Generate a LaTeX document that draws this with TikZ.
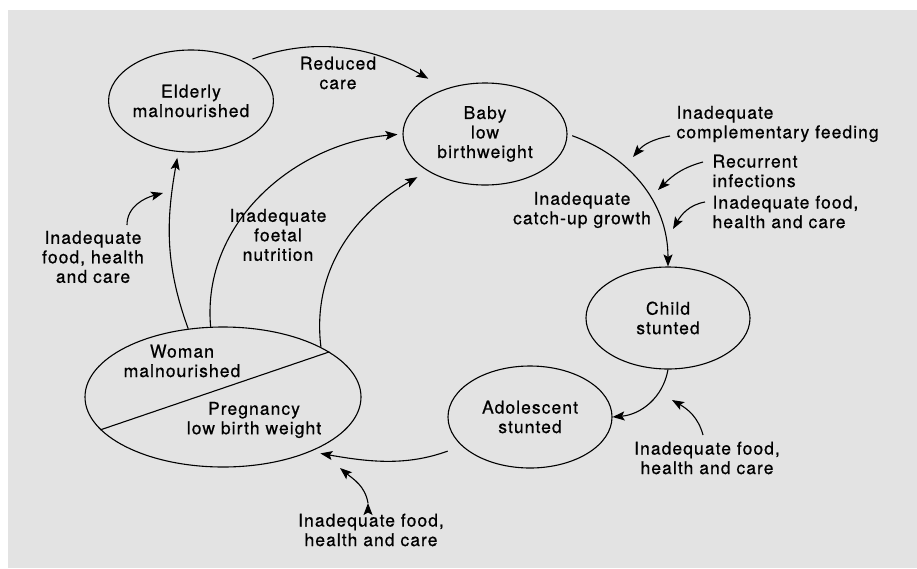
\documentclass[tikz,border=0pt]{standalone}
\usepackage{fontspec}
\setmainfont{TeX Gyre Heros}[LetterSpace=6, FakeBold=0.6]
\usetikzlibrary{shapes.geometric,arrows.meta}
\definecolor{panel}{RGB}{227,227,227}

\begin{document}
\begin{tikzpicture}[x=1pt, y=1pt, line width=1.1pt,
        >={Stealth[length=12pt,width=9pt,inset=2.5pt]},
        font=\fontsize{17.5}{19.5}\selectfont,
        state/.style={draw, ellipse, minimum width=164pt, minimum height=102pt, inner sep=0pt, align=center},
        lbl/.style={align=center, inner sep=0pt},
        side/.style={anchor=west, align=left, inner sep=0pt}]
                \useasboundingbox (0,0) rectangle (917,-568);
                \fill[panel] (8,-10) rectangle (917,-568);
                % the cycle
                \node[state] (elderly) at (191,-101) {Elderly\\malnourished};
                \node[state] (baby) at (485,-134) {Baby\\low\\birthweight};
                \node[state] (child) at (668,-318) {Child\\stunted};
                \node[state] (teen) at (530,-417) {Adolescent\\stunted};
                \node[state, minimum width=276pt, minimum height=140pt] (woman) at (223,-397) {};
                \draw (woman.195) -- (woman.23);
                \node[lbl] (wtop) at (182,-361) {Woman\\malnourished};
                \node[lbl] (wbot) at (254,-420) {Pregnancy\\low birth weight};
                % labels
                \node[lbl] (care) at (338,-73) {Reduced\\care};
                \node[lbl] (foetal) at (278,-235) {Inadequate\\foetal\\nutrition};
                \node[lbl] (oldfood) at (93,-257) {Inadequate\\food, health\\and care};
                \node[lbl] (catchup) at (582,-210) {Inadequate\\catch-up growth};
                \node[side] (feeding) at (676,-124) {Inadequate\\complementary feeding};
                \node[side] (infect) at (712,-171) {Recurrent\\infections};
                \node[side] (babyfood) at (712,-212) {Inadequate food,\\health and care};
                \node[lbl] (childfood) at (707,-458) {Inadequate food,\\health and care};
                \node[lbl] (teenfood) at (371,-530) {Inadequate food,\\health and care};
                % ends of the small arrows
                \coordinate (o1) at (127,-225); \coordinate (o2) at (163,-193);
                \coordinate (f1) at (670,-136); \coordinate (f2) at (633,-157);
                \coordinate (i1) at (703,-162); \coordinate (i2) at (658,-190);
                \coordinate (b1) at (705,-202); \coordinate (b2) at (673,-229);
                \coordinate (c1) at (703,-435); \coordinate (c2) at (672,-400);
                \coordinate (t1) at (368,-503); \coordinate (t2) at (340,-468);
                \draw[->]
                    (elderly.36) edge[out=20, in=150, shorten <=8pt, shorten >=20pt] (baby.131)
                    (woman.117) edge[out=110, in=-100, shorten >=6pt] (elderly.256)
                    (woman.100) edge[out=95, in=185, shorten >=5pt] (baby.180)
                    (woman.27) edge[out=97, in=210, shorten >=12pt] (baby.213)
                    (baby.0) edge[out=-20, in=90, shorten <=5pt] (child.90)
                    (child.270) edge[out=260, in=5] (teen.0)
                    (teen.203) edge[out=200, in=-10, shorten <=15pt, shorten >=10pt] (woman.-32)
                    (o1) edge[out=90, in=195] (o2)
                    (f1) edge[out=190, in=50] (f2)
                    (i1) edge[out=195, in=45] (i2)
                    (b1) edge[out=190, in=60] (b2)
                    (c1) edge[out=105, in=-30] (c2)
                    (t1) edge[out=100, in=-40] (t2)
                    ;
            \end{tikzpicture}
\end{document}
